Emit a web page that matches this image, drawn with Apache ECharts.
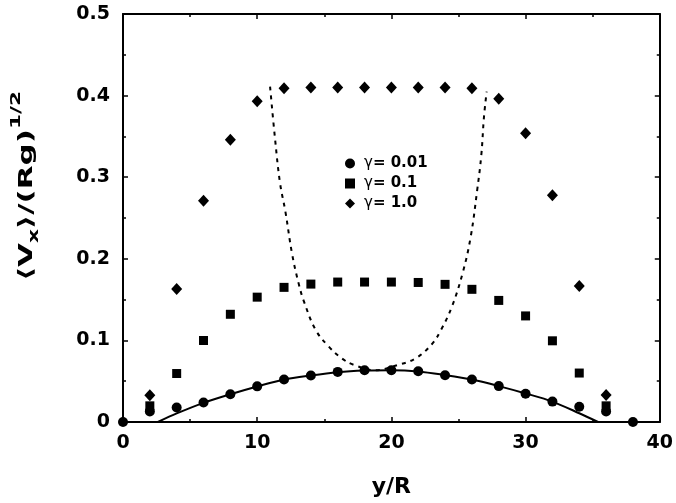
<!DOCTYPE html>
<html>
<head>
<meta charset="utf-8">
<script src="https://cdn.jsdelivr.net/npm/echarts@6/dist/echarts.min.js"></script>
<style>html,body{margin:0;padding:0;background:#fff}#c{width:676px;height:503px}</style>
</head>
<body>
<div id="c"></div>
<script>
const xTicks = [0, 10, 20, 30, 40];
const yTicks = [0, 0.1, 0.2, 0.3, 0.4, 0.5];

const xCircle = [0, 2, 4, 6, 8, 10, 12, 14, 16, 18, 20, 22, 24, 26, 28, 30, 32, 34, 36, 38];
const yCircle = [0, 0.013, 0.0177, 0.0238, 0.034, 0.0437, 0.052, 0.057, 0.0614, 0.0635, 0.0635, 0.0622, 0.0574, 0.052, 0.044, 0.0347, 0.025, 0.0186, 0.0129, 0];

const xSquare = [2, 4, 6, 8, 10, 12, 14, 16, 18, 20, 22, 24, 26, 28, 30, 32, 34, 36];
const ySquare = [0.0198, 0.0594, 0.0999, 0.132, 0.153, 0.165, 0.169, 0.1715, 0.1715, 0.1715, 0.171, 0.1687, 0.1626, 0.149, 0.13, 0.0995, 0.060, 0.0198];

const xDiamond = [2, 4, 6, 8, 10, 12, 14, 16, 18, 20, 22, 24, 26, 28, 30, 32, 34, 36];
const yDiamond = [0.0327, 0.163, 0.271, 0.346, 0.393, 0.409, 0.41, 0.41, 0.41, 0.41, 0.41, 0.41, 0.409, 0.396, 0.354, 0.278, 0.1666, 0.033];

const xFit = [2.6, 4, 6, 8, 10, 12, 14, 16, 18, 20, 22, 24, 26, 28, 30, 32, 34, 35.4];
const yFit = [0, 0.0105, 0.0235, 0.034, 0.0435, 0.052, 0.057, 0.061, 0.063, 0.0635, 0.062, 0.0575, 0.052, 0.044, 0.035, 0.025, 0.0107, 0];

const xDash = [10.96, 11.33, 11.7, 12.1, 12.6, 13.1, 13.5, 14.35, 15.3, 16.3, 17.2, 18.8, 20.5, 21.8, 23, 23.7, 24.5, 25.3, 25.9, 26.4, 26.7, 26.9, 27.1];
const yDash = [0.411, 0.347, 0.293, 0.258, 0.206, 0.169, 0.147, 0.113, 0.093, 0.078, 0.070, 0.0635, 0.070, 0.078, 0.095, 0.113, 0.141, 0.182, 0.226, 0.285, 0.327, 0.374, 0.405];

const gammaValues = ['0.01', '0.1', '1.0'];
const legendNames = gammaValues.map(v => 'γ = ' + v);

const zip = (a, b) => a.map((v, i) => [v, b[i]]);
const FONT = '"DejaVu Sans", sans-serif';

const chart = echarts.init(document.getElementById('c'), null, {renderer: 'canvas'});

const axisCommon = {
  axisLine: {show: true, onZero: false, lineStyle: {color: '#000', width: 2}},
  axisTick: {show: true, inside: true, length: 5, lineStyle: {color: '#000', width: 1.5}},
  minorTick: {show: true, splitNumber: 2, length: 3, lineStyle: {color: '#000', width: 1.5}},
  splitLine: {show: false}
};

chart.setOption({
  animation: false,
  backgroundColor: '#fff',
  grid: {left: 123, right: 13, top: 14, bottom: 77, containLabel: false},
  legend: {
    orient: 'vertical',
    left: 345,
    top: 156,
    padding: 0,
    itemGap: 5,
    itemWidth: 10,
    itemHeight: 10,
    formatter: function (name) {
      const v = name.replace('γ = ', '');
      return '{g|γ}{t|= ' + v + '}';
    },
    textStyle: {
      color: '#000', padding: [0, 0, 0, 4],
      rich: {
        g: {fontFamily: FONT, fontWeight: 'normal', fontSize: 15, color: '#000', lineHeight: 16},
        t: {fontFamily: FONT, fontWeight: 'bold', fontSize: 15, color: '#000', lineHeight: 16}
      }
    },
    data: [
      {name: legendNames[0], icon: 'circle'},
      {name: legendNames[1], icon: 'rect'},
      {name: legendNames[2], icon: 'diamond'}
    ]
  },
  xAxis: [
    Object.assign({}, axisCommon, {
      type: 'value', min: xTicks[0], max: xTicks[xTicks.length - 1], interval: 10,
      position: 'bottom',
      name: 'y/R', nameLocation: 'middle', nameGap: 54,
      nameTextStyle: {fontFamily: FONT, fontWeight: 'bold', fontSize: 22, color: '#000'},
      axisLabel: {show: true, margin: 12, fontFamily: FONT, fontWeight: 'bold', fontSize: 19, color: '#000'}
    }),
    Object.assign({}, axisCommon, {
      type: 'value', min: xTicks[0], max: xTicks[xTicks.length - 1], interval: 10,
      position: 'top', axisLabel: {show: false}
    })
  ],
  yAxis: [
    Object.assign({}, axisCommon, {
      type: 'value', min: yTicks[0], max: yTicks[yTicks.length - 1], interval: 0.1,
      position: 'left',
      axisLabel: {show: true, margin: 13, fontFamily: FONT, fontWeight: 'bold', fontSize: 19, color: '#000'}
    }),
    Object.assign({}, axisCommon, {
      type: 'value', min: yTicks[0], max: yTicks[yTicks.length - 1], interval: 0.1,
      position: 'right', axisLabel: {show: false}
    })
  ],
  graphic: [{
    type: 'text',
    x: 27,
    y: 186,
    rotation: Math.PI / 2,
    scaleX: 1.55,
    style: {
      text: '{m|⟨V}{s|x}{m|⟩/(Rg)}{p|1/2}',
      align: 'center',
      verticalAlign: 'middle',
      rich: {
        m: {fontFamily: FONT, fontWeight: 'bold', fontSize: 20, fill: '#000', verticalAlign: 'bottom'},
        s: {fontFamily: FONT, fontWeight: 'bold', fontSize: 14, fill: '#000', verticalAlign: 'bottom', padding: [0, 0, -4, 0]},
        p: {fontFamily: FONT, fontWeight: 'bold', fontSize: 14, fill: '#000', verticalAlign: 'top', padding: [-8, 0, 0, 0]}
      }
    }
  }],
  series: [
    {
      name: 'fit', type: 'line', data: zip(xFit, yFit), smooth: 0.3, showSymbol: false,
      lineStyle: {color: '#000', width: 2}, z: 2, silent: true
    },
    {
      name: 'dash', type: 'line', data: zip(xDash, yDash), smooth: 0.4, showSymbol: false,
      lineStyle: {color: '#000', width: 2, type: [4, 5]}, z: 2, silent: true
    },
    {
      name: legendNames[0], type: 'scatter', data: zip(xCircle, yCircle), symbol: 'circle', symbolSize: 10,
      itemStyle: {color: '#000', opacity: 1}, clip: false, z: 3
    },
    {
      name: legendNames[1], type: 'scatter', data: zip(xSquare, ySquare), symbol: 'rect', symbolSize: 9,
      itemStyle: {color: '#000', opacity: 1}, clip: false, z: 3
    },
    {
      name: legendNames[2], type: 'scatter', data: zip(xDiamond, yDiamond), symbol: 'diamond', symbolSize: [11, 12],
      itemStyle: {color: '#000', opacity: 1}, clip: false, z: 3
    }
  ]
});
</script>
</body>
</html>
